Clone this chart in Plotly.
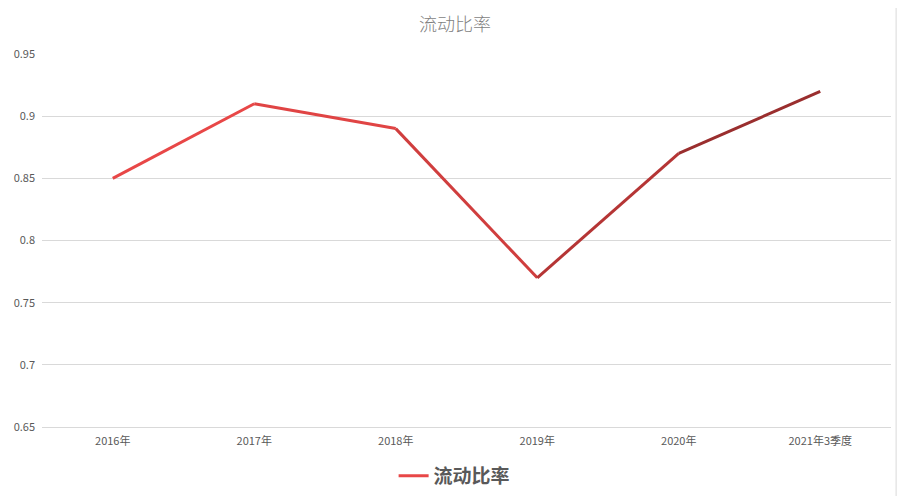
"""Current ratio line chart (流动比率) recreated with Plotly."""

import plotly.graph_objects as go

CATEGORIES = ["2016年", "2017年", "2018年", "2019年", "2020年", "2021年3季度"]
CURRENT_RATIO = [0.85, 0.91, 0.89, 0.77, 0.87, 0.92]
Y_TICKS = [0.65, 0.7, 0.75, 0.8, 0.85, 0.9, 0.95]
SERIES_NAME = "流动比率"

# line fades from bright red to dark red, one colour per segment
SEGMENT_COLORS = ["#E84747", "#E04444", "#D03E3E", "#B53535", "#9A2E2E"]

# the page body adds an 8px margin, so the figure is sized to sit inside it
FIG_W, FIG_H = 894, 488

fig = go.Figure()

for i, color in enumerate(SEGMENT_COLORS):
    fig.add_trace(
        go.Scatter(
            x=CATEGORIES[i : i + 2],
            y=CURRENT_RATIO[i : i + 2],
            mode="lines",
            line={"color": color, "width": 3},
            name=SERIES_NAME,
            showlegend=(i == 0),
            hoverinfo="x+y",
        )
    )

fig.update_layout(
    width=FIG_W,
    height=FIG_H,
    margin={"l": 34, "r": 11, "t": 46, "b": 69, "autoexpand": False},
    paper_bgcolor="white",
    plot_bgcolor="white",
    title={
        "text": SERIES_NAME,
        "x": (455 - 8) / FIG_W,
        "xanchor": "center",
        "yref": "container",
        "y": 1 - 17 / FIG_H,
        "yanchor": "middle",
        "font": {"family": "Noto Sans CJK SC", "size": 18, "color": "#7F7F7F", "weight": 300},
    },
    legend={
        "orientation": "h",
        "x": 0.486,
        "xanchor": "center",
        "y": -0.131,
        "yanchor": "middle",
        "font": {"family": "Noto Sans CJK SC", "size": 19, "color": "#595959", "weight": "bold"},
    },
    shapes=[
        {
            "type": "rect",
            "xref": "paper",
            "yref": "paper",
            "x0": -0.046,
            "x1": 1.006,
            "y0": -0.196,
            "y1": 1.137,
            "line": {"color": "#D9D9D9", "width": 1},
        }
    ],
)

fig.update_xaxes(
    type="category",
    categoryorder="array",
    categoryarray=CATEGORIES,
    showgrid=False,
    showline=True,
    linecolor="#D9D9D9",
    ticks="",
    ticklabelstandoff=4,
    tickfont={"family": "Noto Sans CJK SC", "size": 11, "color": "#595959"},
    range=[-0.5, len(CATEGORIES) - 0.5],
    automargin=False,
    fixedrange=True,
)

fig.update_yaxes(
    range=[0.65, 0.95],
    tickvals=Y_TICKS,
    ticktext=[f"{v:g}" for v in Y_TICKS],
    showgrid=True,
    gridcolor="#D9D9D9",
    zeroline=False,
    showline=False,
    ticks="",
    ticklabelstandoff=6,
    tickfont={"family": "Noto Sans CJK SC", "size": 11, "color": "#595959"},
    automargin=False,
    fixedrange=True,
)

fig.write_html("out.html")
